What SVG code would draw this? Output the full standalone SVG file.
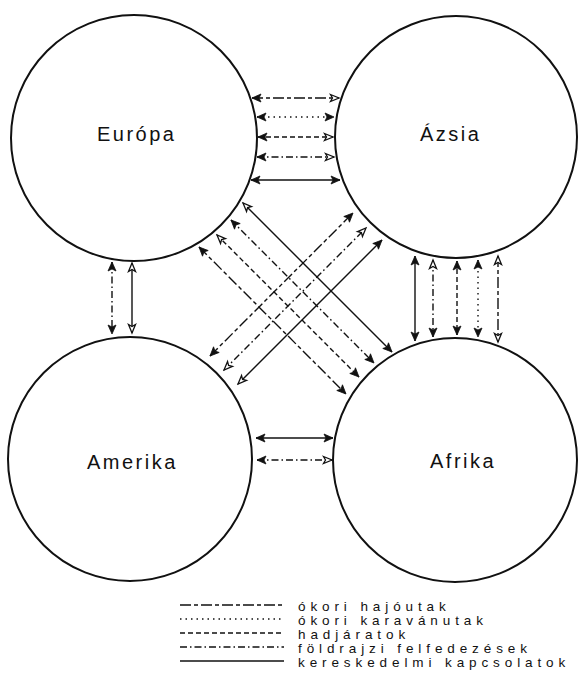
<svg xmlns="http://www.w3.org/2000/svg" width="578" height="697" viewBox="0 0 578 697">
<style>
.c{fill:none;stroke:#111;stroke-width:2}
.lbl{font-family:"Liberation Sans",Arial,sans-serif;font-size:20px;letter-spacing:2.5px;fill:#111}
.leg{font-family:"Liberation Sans",Arial,sans-serif;font-size:13.5px;letter-spacing:4.9px;fill:#111}
.l{fill:none;stroke:#111;stroke-width:1.4}
.hajo{stroke-dasharray:11 3 4 3}
.karavan{stroke-dasharray:1.5 4}
.hadj{stroke-dasharray:5 3}
.felf{stroke-dasharray:7 3 1.5 3}
.f{marker-start:url(#af);marker-end:url(#af)}
.fo{marker-start:url(#af);marker-end:url(#ao)}
.of{marker-start:url(#ao);marker-end:url(#af)}
.oo{marker-start:url(#ao);marker-end:url(#ao)}
</style>
<defs>
<marker id="af" markerUnits="userSpaceOnUse" markerWidth="12" markerHeight="10" refX="10" refY="5" orient="auto-start-reverse">
<path d="M1,1 L10,5 L1,9 L3,5 Z" fill="#111" stroke="#111" stroke-width="0.8"/>
</marker>
<marker id="ao" markerUnits="userSpaceOnUse" markerWidth="12" markerHeight="10" refX="10" refY="5" orient="auto-start-reverse">
<path d="M1.5,1.5 L10,5 L1.5,8.5 L3.5,5 Z" fill="#fff" stroke="#111" stroke-width="1.3"/>
</marker>
</defs>

<g id="europa">
<circle class="c" cx="134" cy="138" r="123"/>
<text class="lbl" x="97" y="141">Európa</text>
</g>
<g id="azsia">
<circle class="c" cx="456" cy="137" r="121"/>
<text class="lbl" x="420" y="141">Ázsia</text>
</g>
<g id="amerika">
<circle class="c" cx="130" cy="459" r="122"/>
<text class="lbl" x="87" y="469">Amerika</text>
</g>
<g id="afrika">
<circle class="c" cx="455" cy="460" r="122"/>
<text class="lbl" x="430" y="468">Afrika</text>
</g>

<g id="connectors">
<!-- Európa - Ázsia -->
<line class="l hajo fo" x1="252" y1="98" x2="339" y2="98"/>
<line class="l karavan f" x1="257" y1="117" x2="334" y2="117"/>
<line class="l hadj fo" x1="258" y1="137" x2="333" y2="137"/>
<line class="l felf fo" x1="257" y1="157" x2="334" y2="157"/>
<line class="l f" x1="251" y1="180" x2="340" y2="180"/>
<!-- Európa - Amerika -->
<line class="l felf f" x1="112" y1="262" x2="112" y2="334"/>
<line class="l oo" x1="132" y1="263" x2="132" y2="333"/>
<!-- Ázsia - Afrika -->
<line class="l f" x1="415" y1="256" x2="415" y2="341"/>
<line class="l felf of" x1="433" y1="260" x2="433" y2="337"/>
<line class="l hadj f" x1="457" y1="261" x2="457" y2="335"/>
<line class="l karavan f" x1="478" y1="260" x2="478" y2="337"/>
<line class="l hajo oo" x1="498" y1="256" x2="498" y2="342"/>
<!-- Amerika - Afrika -->
<line class="l f" x1="256" y1="438" x2="333" y2="438"/>
<line class="l felf fo" x1="257" y1="460" x2="332" y2="460"/>
<!-- Európa - Afrika diagonals -->
<line class="l of" x1="243" y1="203" x2="392" y2="352"/>
<line class="l felf f" x1="231" y1="220" x2="374" y2="363"/>
<line class="l hadj of" x1="217" y1="235" x2="359" y2="377"/>
<line class="l hajo f" x1="199" y1="247" x2="346" y2="394"/>
<!-- Amerika - Ázsia diagonals -->
<line class="l hajo f" x1="210" y1="356" x2="353" y2="213"/>
<line class="l felf oo" x1="224" y1="370" x2="366" y2="228"/>
<line class="l of" x1="238" y1="384" x2="382" y2="240"/>
</g>

<g id="legend">
<line class="l hajo" x1="180" y1="605" x2="284" y2="605"/>
<line class="l karavan" x1="180" y1="619" x2="284" y2="619"/>
<line class="l hadj" x1="180" y1="633" x2="284" y2="633"/>
<line class="l felf" x1="180" y1="647" x2="284" y2="647"/>
<line class="l" x1="180" y1="661" x2="284" y2="661"/>
<text class="leg" x="298" y="611">ókori hajóutak</text>
<text class="leg" x="298" y="625">ókori karavánutak</text>
<text class="leg" x="298" y="639">hadjáratok</text>
<text class="leg" x="298" y="653">földrajzi felfedezések</text>
<text class="leg" x="298" y="667">kereskedelmi kapcsolatok</text>
</g>
</svg>
